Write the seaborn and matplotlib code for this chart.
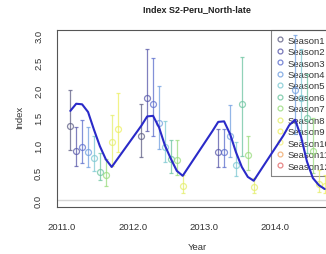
import numpy as np
import pandas as pd
import matplotlib
matplotlib.use("Agg")
import matplotlib.pyplot as plt
from matplotlib.lines import Line2D
import seaborn as sns

seasons = [f"Season{i}" for i in range(1, 13)]
season_colors = ["#5e5e84", "#5656a8", "#5a6ccc", "#6f9ee0", "#7cc8d2", "#6cc4a0",
                 "#98dc7c", "#e4ee6a", "#eef060", "#f2f07a", "#f0a86a", "#e26a6a"]

# observed index per season (mean with lower / upper bound)
pt_time = [2011.117, 2011.2, 2011.283, 2011.367, 2011.45, 2011.533, 2011.617, 2011.7, 2011.783,
           2012.117, 2012.2, 2012.283, 2012.367, 2012.45, 2012.533, 2012.617, 2012.7,
           2013.2, 2013.283, 2013.367, 2013.45, 2013.533, 2013.617, 2013.7,
           2014.283, 2014.367, 2014.45, 2014.533, 2014.617, 2014.7]
pt_season = [1, 2, 3, 4, 5, 6, 7, 8, 9,
             1, 2, 3, 4, 5, 6, 7, 8,
             2, 3, 4, 5, 6, 7, 8,
             4, 5, 6, 7, 8, 9]
pt_mean = [1.35, 0.90, 0.97, 0.88, 0.76, 0.51, 0.45, 1.05, 1.30,
           1.17, 1.85, 1.75, 1.40, 0.96, 0.75, 0.72, 0.26,
           0.88, 0.88, 1.17, 0.64, 1.75, 0.82, 0.24,
           2.00, 1.85, 1.50, 0.90, 0.30, 0.25]
pt_low = [0.91, 0.62, 0.67, 0.60, 0.53, 0.37, 0.26, 0.62, 0.87,
          0.79, 1.26, 1.17, 0.93, 0.69, 0.50, 0.45, 0.12,
          0.60, 0.60, 0.78, 0.43, 0.80, 0.55, 0.12,
          1.20, 1.10, 0.85, 0.50, 0.15, 0.12]
pt_high = [2.00, 1.33, 1.45, 1.33, 1.17, 0.85, 0.75, 1.55, 1.95,
           1.75, 2.75, 2.58, 2.08, 1.44, 1.10, 1.10, 0.45,
           1.30, 1.30, 1.73, 1.05, 2.60, 1.17, 0.40,
           3.00, 2.75, 2.30, 1.50, 0.55, 0.45]

# fitted index
line_time = [2011.117, 2011.2, 2011.283, 2011.367, 2011.45, 2011.533, 2011.617, 2011.7,
             2012.117, 2012.2, 2012.283, 2012.367, 2012.45, 2012.533, 2012.617, 2012.7,
             2013.117, 2013.2, 2013.283, 2013.367, 2013.45, 2013.533, 2013.617, 2013.7,
             2014.117, 2014.2, 2014.283, 2014.367, 2014.45, 2014.533, 2014.617, 2014.7]
line_index = [1.62, 1.75, 1.74, 1.60, 1.28, 0.98, 0.74, 0.60,
              1.35, 1.52, 1.53, 1.32, 0.99, 0.75, 0.53, 0.44,
              1.25, 1.42, 1.43, 1.20, 0.87, 0.60, 0.42, 0.35,
              1.17, 1.36, 1.46, 1.15, 0.70, 0.40, 0.27, 0.20]

sns.set_style("white")
plt.rcParams["font.family"] = ["Liberation Sans", "DejaVu Sans"]

W, H = 326, 255
fig = plt.figure(figsize=(W / 100, H / 100), dpi=100)
left, right, top, bottom = 57, 337, 31, 208
ax = fig.add_axes([left / W, 1 - bottom / H, (right - left) / W, (bottom - top) / H])

ax.axhline(0, color="#d6d6d6", lw=1, zorder=0)

for t, s, m, lo, hi in zip(pt_time, pt_season, pt_mean, pt_low, pt_high):
    c = season_colors[s - 1]
    ax.errorbar(t, m, yerr=[[m - lo], [hi - m]], fmt="o", mfc="none", mec=c, ecolor=c,
                ms=4.3, mew=0.9, elinewidth=0.9, capsize=1.2, capthick=0.9, alpha=0.75, zorder=3)

df_line = pd.DataFrame({"Year": line_time, "Index": line_index})
sns.lineplot(data=df_line, x="Year", y="Index", ax=ax, color="#2a2ac8", lw=1.5,
             sort=False, estimator=None, zorder=4)

ax.set_xlim(2011 - 5 / 71, 2011 + (right - 62) / 71)
ax.set_ylim(-7 / 55, 170 / 55)

xt = np.arange(2011, 2015, 0.5)
ax.set_xticks(xt)
ax.set_xticklabels([f"{v:.1f}" if v == int(v) else "" for v in xt])
yt = np.arange(0, 3.01, 0.5)
ax.set_yticks(yt)
ax.set_yticklabels([f"{v:.1f}" for v in yt], rotation=90, va="center")
ax.tick_params(axis="both", length=4, width=0.8, color="#444444", labelsize=6.8,
               labelcolor="#333333", direction="out")
ax.tick_params(axis="x", pad=7)
ax.tick_params(axis="y", pad=6)
for sp in ax.spines.values():
    sp.set_color("#555555")
    sp.set_linewidth(0.8)

ax.set_xlabel("")
ax.set_ylabel("")
fig.text(197 / W, 1 - 248 / H, "Year", ha="center", va="center", fontsize=6.8, color="#333333")
fig.text(20 / W, 1 - 117 / H, "Index", ha="center", va="center", rotation=90, fontsize=6.8,
         color="#333333")
fig.text(197 / W, 1 - 10 / H, "Index S2-Peru_North-late", ha="center", va="center",
         fontsize=6.5, fontweight="bold", color="#222222")

handles = [Line2D([], [], ls="none", marker="o", mfc="none", mec=c, ms=3.5, mew=0.9, alpha=0.8)
           for c in season_colors]
leg = ax.legend(handles, seasons, loc="upper left", bbox_to_anchor=((271 - left) / (right - left), 1.0),
                borderaxespad=0, fontsize=6.8, frameon=True, fancybox=False, edgecolor="#666666",
                handlelength=0.7, handletextpad=0.5, labelspacing=0.26, borderpad=0.6)
leg.get_frame().set_facecolor("none")
leg.get_frame().set_linewidth(0.8)
leg.set_zorder(1)
for txt in leg.get_texts():
    txt.set_color("#333333")

fig.savefig("out.png", dpi=100)
